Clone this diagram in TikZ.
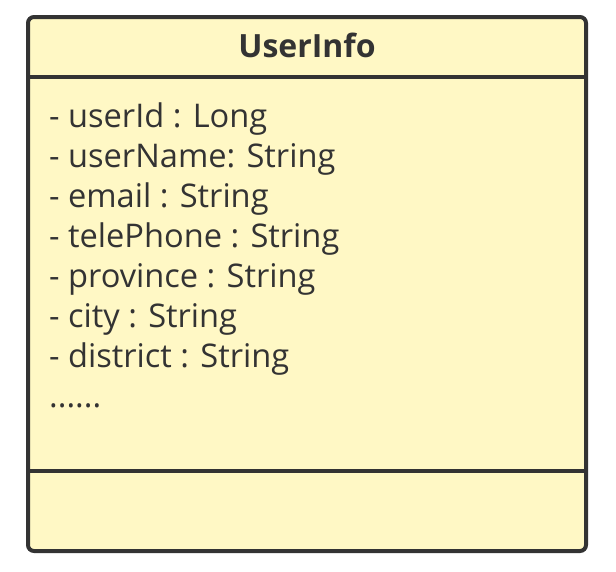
\documentclass[tikz,border=0pt]{standalone}
\usepackage{fontspec}
\setmainfont{Open Sans}
\definecolor{boxfill}{HTML}{FFF8C5}
\definecolor{boxline}{HTML}{333333}
\begin{document}
\begin{tikzpicture}[x=1pt,y=1pt,
  classbox/.style={draw=boxline, fill=boxfill, line width=4pt, rounded corners=6pt},
  divider/.style={draw=boxline, line width=4pt},
  attr/.style={anchor=base west, inner sep=0pt, text=boxline, font=\fontsize{32.6}{32.6}\selectfont},
  title/.style={anchor=base, inner sep=0pt, text=boxline, font=\fontsize{32}{32}\selectfont\bfseries}]
\useasboundingbox (0,0) rectangle (616,-571);
\path[classbox] (28,-17) rectangle (586,-551);
\coordinate (d1l) at (28,-76.5);
\coordinate (d1r) at (586,-76.5);
\coordinate (d2l) at (28,-470.5);
\coordinate (d2r) at (586,-470.5);
\draw[divider] (d1l) -- (d1r);
\draw[divider] (d2l) -- (d2r);
\node[title] (t) at (307,-57.5) {UserInfo};
\node[attr] (a1) at (49,-127) {- userId : Long};
\node[attr] (a2) at (49,-167) {- userName: String};
\node[attr] (a3) at (49,-207) {- email : String};
\node[attr] (a4) at (49,-247) {- telePhone : String};
\node[attr] (a5) at (49,-287) {- province : String};
\node[attr] (a6) at (49,-327) {- city : String};
\node[attr] (a7) at (49,-367) {- district : String};
\node[attr] (a8) at (49,-407) {......};
\end{tikzpicture}
\end{document}
